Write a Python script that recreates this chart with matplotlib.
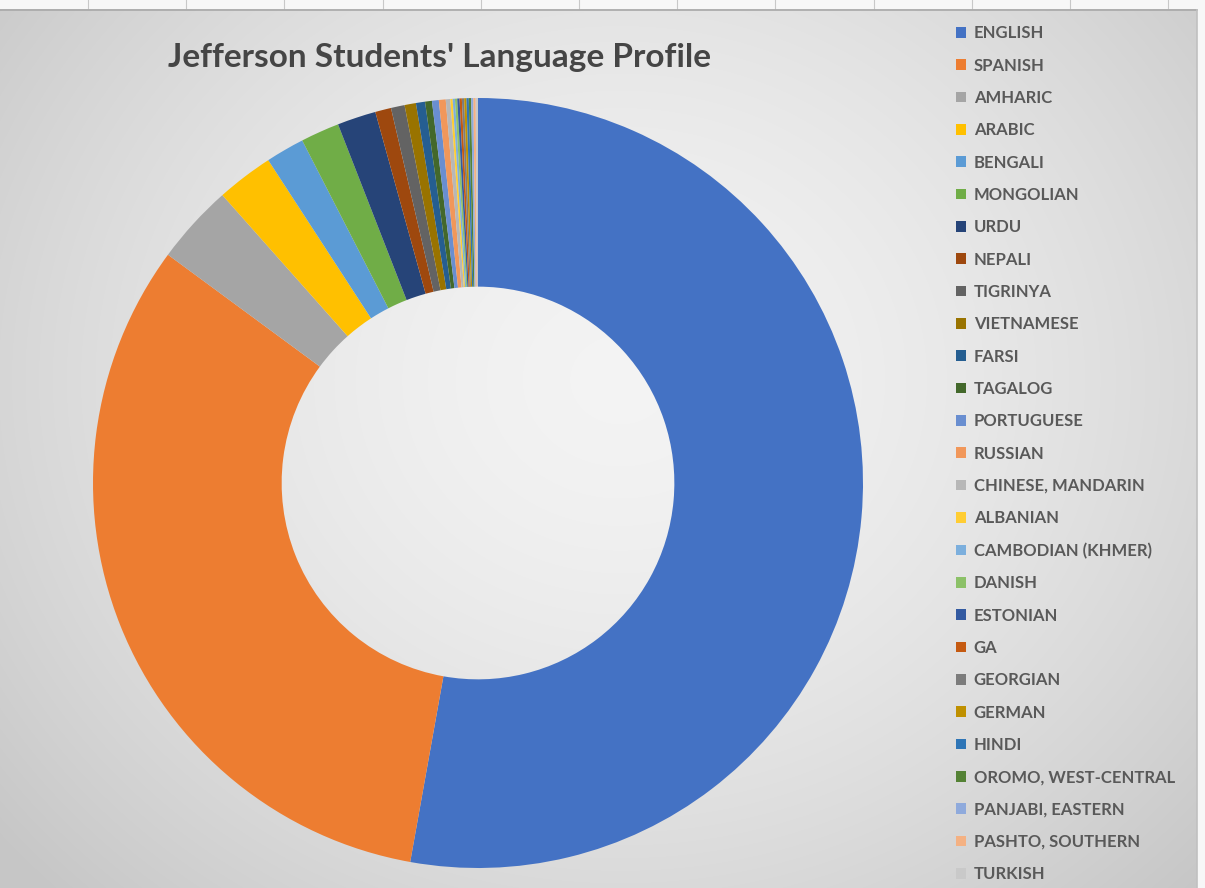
import numpy as np
import matplotlib
matplotlib.use("Agg")
import matplotlib.pyplot as plt

languages = ["ENGLISH", "SPANISH", "AMHARIC", "ARABIC", "BENGALI", "MONGOLIAN",
             "URDU", "NEPALI", "TIGRINYA", "VIETNAMESE", "FARSI", "TAGALOG",
             "PORTUGUESE", "RUSSIAN", "CHINESE, MANDARIN", "ALBANIAN",
             "CAMBODIAN (KHMER)", "DANISH", "ESTONIAN", "GA", "GEORGIAN", "GERMAN",
             "HINDI", "OROMO, WEST-CENTRAL", "PANJABI, EASTERN", "PASHTO, SOUTHERN",
             "TURKISH"]
students = [553, 338, 35, 25, 17, 17, 17, 7, 6, 5, 4, 3, 3, 3, 2,
            1, 1, 1, 1, 1, 1, 1, 1, 1, 1, 1, 1]
colors = ["#4472C4", "#ED7D31", "#A5A5A5", "#FFC000", "#5B9BD5", "#70AD47",
          "#264478", "#9E480E", "#636363", "#997300", "#255E91", "#43682B",
          "#698ED0", "#F1975A", "#B7B7B7", "#FFCD33", "#7CAFDD", "#8CC168",
          "#335AA1", "#C55A11", "#7C7C7C", "#BF9000", "#2E75B6", "#548235",
          "#8FAADC", "#F4B183", "#C9C9C9"]

W, H = 1205, 888
fig = plt.figure(figsize=(W / 100, H / 100), dpi=100)

# background: soft radial grey gradient like the Excel chart area
bg = fig.add_axes([0, 0, 1, 1])
yy, xx = np.mgrid[0:H, 0:W]
r = np.hypot((xx - 620) / 700.0, (yy - 380) / 620.0)
shade = np.clip(0.955 - 0.14 * r ** 1.6, 0.78, 0.96)
img = np.dstack([shade, shade, shade])
img[:10, :, :] = 0.97
img[:, 1197:, :] = 0.97
bg.imshow(img, extent=[0, W, H, 0], aspect="auto", interpolation="bilinear")
for gx in np.arange(88, W, 98.2):
    bg.plot([gx, gx], [0, 9], color="#c8c8c8", lw=0.8)
bg.plot([0, 1197], [10, 10], color="#a8a8a8", lw=1.2)
bg.plot([1197, 1197], [10, H], color="#c0c0c0", lw=1.2)
bg.set_xlim(0, W)
bg.set_ylim(H, 0)
bg.axis("off")

# donut
cx, cy, R = 478, 483, 385
ax = fig.add_axes([(cx - R) / W, (H - cy - R) / H, 2 * R / W, 2 * R / H])
ax.patch.set_alpha(0)
wedges, _ = ax.pie(students, colors=colors, startangle=90, counterclock=False,
                   radius=1.0, wedgeprops=dict(width=0.49, linewidth=0))
ax.set_xlim(-1, 1)
ax.set_ylim(-1, 1)
ax.set_aspect("equal")
ax.axis("off")

fig.text(440 / W, 1 - 58 / H, "Jefferson Students' Language Profile",
         ha="center", va="center", fontsize=24, fontweight="bold",
         color="#454545", family="Lato")

leg = fig.legend(wedges, languages, loc="upper left",
                 bbox_to_anchor=(948 / W, 1 - 17 / H), frameon=False,
                 prop=dict(family="Lato", weight="bold", size=12),
                 labelcolor="#595959", handlelength=0.6, handleheight=0.6,
                 handletextpad=0.45, labelspacing=0.98, borderpad=0)

fig.savefig("out.png", dpi=100)
